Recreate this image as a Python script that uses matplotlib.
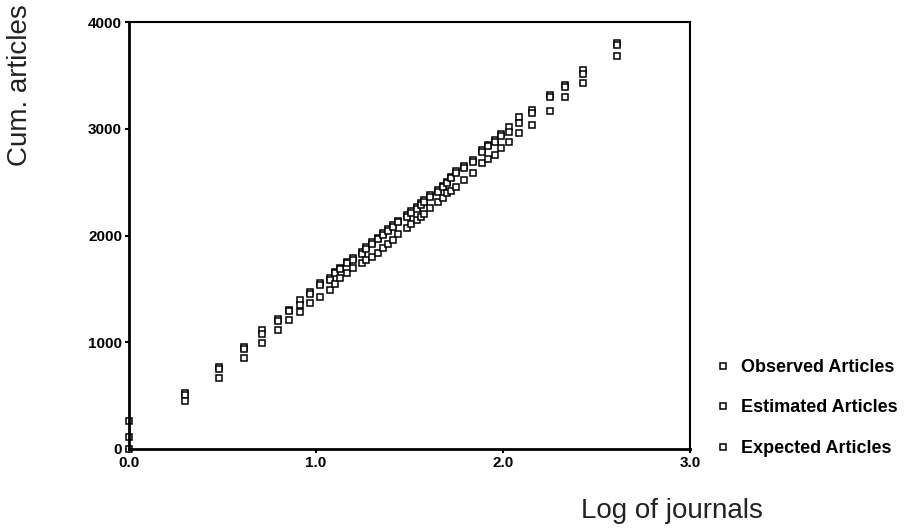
import matplotlib
matplotlib.use("Agg")
import matplotlib.pyplot as plt

# x: log of cumulative journals
log_journals = [0.00, 0.30, 0.48, 0.615, 0.71, 0.795, 0.857, 0.914, 0.97, 1.02,
                1.075, 1.10, 1.13, 1.165, 1.20, 1.245, 1.27, 1.30, 1.33, 1.36,
                1.385, 1.41, 1.44, 1.485, 1.51, 1.54, 1.56, 1.58, 1.61, 1.65,
                1.68, 1.70, 1.72, 1.75, 1.79, 1.84, 1.89, 1.92, 1.955, 1.99,
                2.03, 2.085, 2.155, 2.25, 2.33, 2.43, 2.61]

observed = [266, 525, 770, 958, 1115, 1215, 1302, 1396, 1473, 1552,
            1599, 1661, 1700, 1755, 1790, 1848, 1890, 1942, 1980, 2023,
            2060, 2098, 2140, 2192, 2230, 2270, 2300, 2333, 2380, 2426,
            2465, 2504, 2550, 2600, 2650, 2707, 2801, 2850, 2895, 2950,
            3019, 3113, 3176, 3316, 3410, 3550, 3800]

estimated = [116, 505, 750, 940, 1075, 1200, 1290, 1349, 1455, 1535,
             1585, 1645, 1690, 1740, 1775, 1830, 1875, 1925, 1965, 2005,
             2045, 2080, 2125, 2170, 2215, 2250, 2285, 2315, 2365, 2410,
             2450, 2490, 2535, 2585, 2635, 2690, 2785, 2835, 2880, 2935,
             2972, 3054, 3150, 3300, 3395, 3513, 3780]

expected = [0, 445, 665, 850, 992, 1115, 1208, 1286, 1365, 1427,
            1489, 1550, 1600, 1646, 1693, 1740, 1770, 1800, 1840, 1880,
            1925, 1960, 2010, 2067, 2105, 2145, 2170, 2200, 2260, 2317,
            2350, 2395, 2420, 2450, 2520, 2583, 2679, 2720, 2754, 2820,
            2876, 2960, 3035, 3166, 3300, 3431, 3684]

series_names = ["Observed Articles", "Estimated Articles", "Expected Articles"]
x_ticks = [0.0, 1.0, 2.0, 3.0]
x_tick_labels = ["0.0", "1.0", "2.0", "3.0"]
y_ticks = [0, 1000, 2000, 3000, 4000]
y_tick_labels = ["0", "1000", "2000", "3000", "4000"]

plt.rcParams['font.family'] = ['Liberation Sans', 'DejaVu Sans']

fig = plt.figure(figsize=(9.22, 5.31), dpi=100)
ax = fig.add_axes([129/922, 1-449/531, (690-129)/922, (449-22)/531])

mk = dict(marker='s', linestyle='none', markersize=5, markerfacecolor='white',
          markeredgecolor='black', markeredgewidth=1.1, clip_on=False)
for ys, name in zip([observed, estimated, expected], series_names):
    ax.plot(log_journals, ys, label=name, **mk)

ax.set_xlim(0, 3)
ax.set_ylim(0, 4000)
ax.set_xticks(x_ticks)
ax.set_xticklabels(x_tick_labels, fontsize=11, fontweight='bold')
ax.set_yticks(y_ticks)
ax.set_yticklabels(y_tick_labels, fontsize=11, fontweight='bold')
ax.tick_params(axis='both', length=3, width=1.5, direction='out', pad=2, color='black')
for side, sp in ax.spines.items():
    sp.set_linewidth(2.0 if side in ('left', 'bottom') else 1.5)
    sp.set_color('black')

fig.text(20/922, 1-85/531, "Cum. articles", rotation=90, fontsize=20,
         ha='center', va='center', color='#222222')
fig.text(672/922, 1-511/531, "Log of journals", fontsize=20,
         ha='center', va='center', color='#222222')

leg = fig.legend(loc='center left', bbox_to_anchor=(716/922, 1-408/531),
                 frameon=False, handlelength=0.8, handletextpad=0.6,
                 labelspacing=1.3, borderpad=0, borderaxespad=0,
                 prop={'size': 13, 'weight': 'bold'}, markerscale=0.8)

fig.savefig("out.png", dpi=100)
